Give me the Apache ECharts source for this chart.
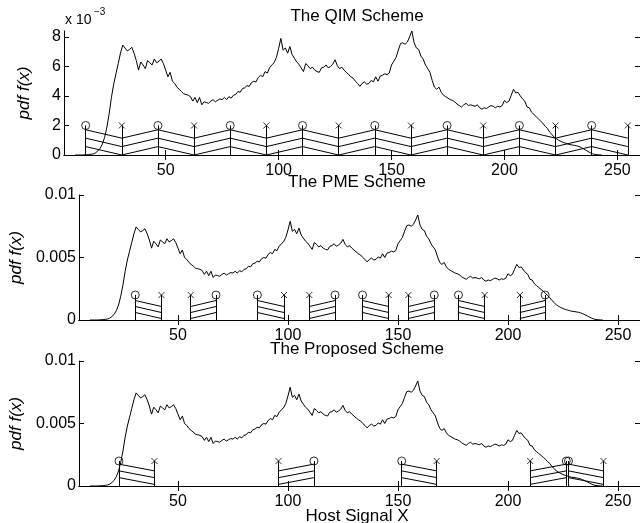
<!DOCTYPE html>
<html>
<head>
<meta charset="utf-8">
<script src="https://cdn.jsdelivr.net/npm/echarts@6/dist/echarts.min.js"></script>
<style>
  html, body { margin: 0; padding: 0; background: #fff; }
  #chart { width: 640px; height: 523px; }
</style>
</head>
<body>
<div id="chart"></div>
<script>
// host signal histogram, values in units of 1e-3, bins from PDF_START
const PDF_START = 10
const PDF = [
  0, 0, 0, 0, 0.01, 0.02, 0.03, 0.05, 0.08, 0.15,
  0.28, 0.45, 0.75, 1.2, 1.9, 2.8, 3.9, 4.8, 5.5, 6.2,
  6.9, 7.45, 7.25, 7.05, 7.15, 7.3, 6.9, 6.4, 5.75, 6.3,
  6.1, 5.85, 6.4, 6.25, 6.1, 6.5, 6.25, 6.35, 6.5, 6.2,
  5.75, 5.3, 5.6, 5.0, 4.85, 4.6, 4.45, 4.3, 4.15, 4.1,
  4.05, 3.95, 3.65, 3.9, 3.55, 3.9, 3.4, 3.6, 3.55, 3.5,
  3.65, 3.75, 3.6, 3.7, 3.8, 3.75, 3.9, 3.75, 3.95, 3.85,
  4.05, 4.1, 4.3, 4.25, 4.5, 4.55, 4.7, 4.65, 4.9, 5.0,
  4.95, 5.25, 5.4, 5.3, 5.65, 5.55, 5.9, 6.1, 6.25, 6.6,
  7.2, 7.9, 7.1, 7.25, 6.9, 7.35, 6.8, 6.55, 6.3, 6.15,
  5.9, 5.65, 6.2, 6.05, 5.85, 5.95, 5.75, 5.65, 5.6, 5.9,
  5.95, 6.1, 5.9, 6.0, 6.15, 6.45, 6.05, 5.85, 5.95, 5.75,
  5.6, 5.45, 5.3, 5.2, 5.0, 4.85, 4.65, 4.85, 4.95, 4.8,
  4.85, 5.05, 4.95, 5.3, 5.0, 5.35, 5.4, 5.5, 5.45, 5.55,
  6.1, 6.35, 6.6, 7.1, 7.55, 7.6, 7.5, 7.65, 8.0, 8.4,
  7.6, 7.25, 7.15, 6.7, 6.5, 6.1, 5.85, 5.6, 5.05, 4.6,
  4.45, 4.6, 4.25, 4.05, 3.95, 3.85, 3.75, 3.7, 3.6, 3.45,
  3.35, 3.25, 3.4, 3.5, 3.35, 3.4, 3.35, 3.3, 3.4, 3.2,
  3.1, 3.2, 3.15, 3.25, 3.35, 3.3, 3.2, 3.3, 3.25, 3.35,
  3.7, 3.55, 3.65, 4.05, 4.45, 4.2, 4.25, 4.0, 3.8, 3.65,
  3.25, 3.2, 2.9, 2.75, 2.6, 2.45, 2.3, 2.15, 1.95, 1.8,
  1.55, 1.4, 1.2, 1.1, 1.0, 0.92, 0.85, 0.8, 0.75, 0.7,
  0.68, 0.65, 0.62, 0.57, 0.5, 0.42, 0.33, 0.24, 0.15, 0.08,
  0.04, 0.02, 0.01, 0
]

// stem positions (circle = bit 0, cross = bit 1)
const QIM_O = [14.6, 46.6, 78.6, 110.6, 142.6, 174.6, 206.6, 238.6]
const QIM_X = [30.6, 62.6, 94.6, 126.6, 158.6, 190.6, 222.6, 254.6]
// [circle, cross] pairs
const PME_PAIRS = [[30.6, 42.5], [67.3, 55.8], [86.1, 98.2], [121.4, 109.7],
  [133.9, 145.8], [166.5, 154.7], [177.5, 189.4], [216.9, 205.4]]
const PROP_PAIRS = [[23.2, 39.3], [111.8, 95.7], [151.7, 167.6],
  [226.5, 210.1], [227.5, 243.4]]

const MARK_H = 2 // 1e-3
const QIM_LEVELS = [1.71, 1.14, 0.57], QIM_DROP = 0.57
const PME_LEVELS = [1.56, 1.08, 0.6], PME_DROP = 0.48
const PROP_LEVELS = [1.75, 1.21, 0.67], PROP_DROP = 0.54

const X_TICKS = [50, 100, 150, 200, 250]
const Y_TICKS_TOP = [0, 2, 4, 6, 8]
const Y_TICKS = [0, 0.005, 0.01]
const TITLES = ['The QIM Scheme', 'The PME Scheme', 'The Proposed Scheme']

const FONT = 'Liberation Sans, Arial, Helvetica, sans-serif'
const GRIDS = [
  { left: 64, top: 31, width: 577, height: 124 },
  { left: 64, top: 195, width: 577, height: 125 },
  { left: 64, top: 361, width: 577, height: 125 },
]

const chart = echarts.init(document.getElementById('chart'))

const xAxes = []
const yAxes = []
const series = []

GRIDS.forEach((g, i) => {
  const scale = i === 0 ? 1 : 0.001
  xAxes.push({
    type: 'value', gridIndex: i, min: 5, max: 260,
    axisLine: { show: true, lineStyle: { color: '#000' } },
    axisTick: { show: true, inside: true, length: 5, customValues: X_TICKS, lineStyle: { color: '#000' } },
    axisLabel: { customValues: X_TICKS, color: '#000', fontSize: 16, fontFamily: FONT, margin: 8 },
    splitLine: { show: false },
  })
  xAxes.push({
    type: 'value', gridIndex: i, min: 5, max: 260, position: 'top',
    axisLine: { show: true, lineStyle: { color: '#000' } },
    axisTick: { show: true, inside: true, length: 5, customValues: X_TICKS, lineStyle: { color: '#000' } },
    axisLabel: { show: false },
    splitLine: { show: false },
  })
  const yt = i === 0 ? Y_TICKS_TOP : Y_TICKS
  yAxes.push({
    type: 'value', gridIndex: i, min: 0, max: i === 0 ? 8.4 : 0.01,
    name: 'pdf f(x)', nameLocation: 'middle', nameGap: 31, nameRotate: 90,
    nameTextStyle: { fontSize: 17, fontStyle: 'italic', fontFamily: FONT, color: '#000' },
    axisLine: { show: true, lineStyle: { color: '#000' } },
    axisTick: { show: true, inside: true, length: 5, customValues: yt, lineStyle: { color: '#000' } },
    axisLabel: { customValues: yt, color: '#000', fontSize: 16, fontFamily: FONT, margin: 3 },
    splitLine: { show: false },
  })
  yAxes.push({
    type: 'value', gridIndex: i, min: 0, max: i === 0 ? 8.4 : 0.01, position: 'right',
    axisLine: { show: true, lineStyle: { color: '#000' } },
    axisTick: { show: true, inside: true, length: 5, customValues: yt, lineStyle: { color: '#000' } },
    axisLabel: { show: false },
    splitLine: { show: false },
  })

  const xi = i * 2, yi = i * 2
  // pdf curve
  series.push({
    type: 'line', xAxisIndex: xi, yAxisIndex: yi, showSymbol: false, silent: true,
    lineStyle: { color: '#000', width: 1 },
    data: PDF.map((v, k) => [PDF_START + k, v * scale]),
    z: 3,
  })

  let circles, crosses, segs = []
  if (i === 0) {
    circles = QIM_O
    crosses = QIM_X
    const stems = QIM_O.map(x => [x, 'o']).concat(QIM_X.map(x => [x, 'x'])).sort((a, b) => a[0] - b[0])
    for (let k = 0; k < stems.length - 1; k++) {
      const a = stems[k], b = stems[k + 1]
      QIM_LEVELS.forEach(L => {
        const ya = a[1] === 'o' ? L : L - QIM_DROP
        const yb = b[1] === 'o' ? L : L - QIM_DROP
        segs.push([[a[0], ya * scale], [b[0], yb * scale]])
      })
    }
  } else {
    const pairs = i === 1 ? PME_PAIRS : PROP_PAIRS
    const levels = i === 1 ? PME_LEVELS : PROP_LEVELS
    const drop = i === 1 ? PME_DROP : PROP_DROP
    circles = pairs.map(p => p[0])
    crosses = pairs.map(p => p[1])
    pairs.forEach(p => {
      levels.forEach(L => {
        segs.push([[p[0], L * scale], [p[1], (L - drop) * scale]])
      })
    })
  }
  const stemSegs = circles.concat(crosses).map(x => [[x, 0], [x, MARK_H * scale]])

  series.push({
    type: 'lines', coordinateSystem: 'cartesian2d', xAxisIndex: xi, yAxisIndex: yi,
    silent: true, z: 2,
    lineStyle: { color: '#000', width: 1, opacity: 1 },
    data: stemSegs.concat(segs).map(c => ({ coords: c })),
  })
  series.push({
    type: 'scatter', xAxisIndex: xi, yAxisIndex: yi, silent: true, z: 4,
    symbol: 'circle', symbolSize: 8,
    itemStyle: { color: 'rgba(0,0,0,0)', borderColor: '#000', borderWidth: 1 },
    data: circles.map(x => [x, MARK_H * scale]),
  })
  series.push({
    type: 'scatter', xAxisIndex: xi, yAxisIndex: yi, silent: true, z: 4,
    symbol: 'path://M0,0L10,10M10,0L0,10', symbolSize: 6,
    itemStyle: { color: 'none', borderColor: '#000', borderWidth: 1 },
    data: crosses.map(x => [x, MARK_H * scale]),
  })
})

chart.setOption({
  animation: false,
  backgroundColor: '#fff',
  title: [
    { text: TITLES[0], left: 352, top: 3, textAlign: 'center', textStyle: { fontSize: 17, fontWeight: 'normal', fontFamily: FONT, color: '#000' } },
    { text: TITLES[1], left: 352, top: 169, textAlign: 'center', textStyle: { fontSize: 17, fontWeight: 'normal', fontFamily: FONT, color: '#000' } },
    { text: TITLES[2], left: 352, top: 336, textAlign: 'center', textStyle: { fontSize: 17, fontWeight: 'normal', fontFamily: FONT, color: '#000' } },
    { text: 'Host Signal X', left: 352, top: 503, textAlign: 'center', textStyle: { fontSize: 17, fontWeight: 'normal', fontFamily: FONT, color: '#000' } },
  ],
  graphic: [
    { type: 'text', left: 65, top: 13, style: { text: 'x 10', font: '14px ' + FONT, fill: '#000' } },
    { type: 'text', left: 94, top: 7, style: { text: '\u22123', font: '10px ' + FONT, fill: '#000' } },
  ],
  grid: GRIDS,
  xAxis: xAxes,
  yAxis: yAxes,
  series: series,
})
</script>
</body>
</html>
